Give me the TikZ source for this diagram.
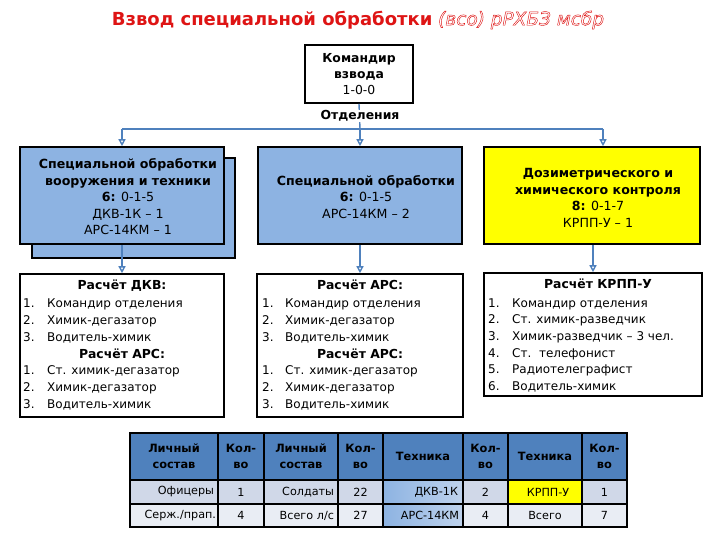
\documentclass[tikz,border=0pt]{standalone}
\usepackage{fontspec}
\setmainfont{DejaVu Sans}
\usetikzlibrary{arrows.meta}
\definecolor{connblue}{RGB}{79,129,189}
\definecolor{boxblue}{RGB}{141,179,226}
\definecolor{ttlred}{RGB}{222,20,20}
\definecolor{hdrblue}{RGB}{79,129,189}
\definecolor{rowa}{RGB}{208,216,232}
\definecolor{rowb}{RGB}{233,237,244}
\definecolor{techl}{RGB}{141,179,226}
\definecolor{techr}{RGB}{190,210,236}
\definecolor{ylw}{RGB}{255,255,0}
\tikzset{
  box/.style={draw=black, line width=1.6pt, inner sep=0pt},
  ubox/.style={box, fill=boxblue},
  lbox/.style={box, fill=white},
  connector/.style={draw=connblue, line width=1.4pt, -{Triangle[open, length=7pt, width=7pt]}},
  plainline/.style={draw=connblue, line width=1.4pt},
  btxt/.style={inner sep=0pt, align=center, font=\fontsize{12.6}{16.5}\selectfont},
  itm/.style={inner sep=0pt, anchor=base west, font=\fontsize{12}{14}\selectfont},
  ihead/.style={inner sep=0pt, anchor=base, font=\fontsize{12.4}{14}\selectfont\bfseries},
  cell/.style={draw=black, line width=1.3pt, inner sep=0pt, font=\fontsize{11.2}{12}\selectfont},
  hcell/.style={cell, fill=hdrblue, align=center, font=\fontsize{11.4}{16}\selectfont\bfseries},
}
\newcommand\lstln[6]{\node[itm] (#6n) at (#1,#3) {#4.}; \node[itm] (#6) at (#2,#3) {#5};}
\newcommand\outlinetext[1]{\special{pdf:literal direct 1 Tr 0.45 w}#1\special{pdf:literal direct 0 Tr}}
\begin{document}
\begin{tikzpicture}[x=1pt,y=-1pt]
\useasboundingbox (0,0) rectangle (720,540);

% title
\node[inner sep=0pt, text=ttlred, font=\fontsize{18}{20}\selectfont] (ttl) at (358,20)
  {\textbf{Взвод специальной обработки} \textit{\fontsize{18.5}{20}\selectfont\outlinetext{(всо) рРХБЗ мсбр}}};

% commander
\node[box, fill=white, minimum width=108pt, minimum height=58pt, align=center,
      font=\fontsize{12.4}{16}\selectfont] (cmd) at (359,74)
  {\textbf{Командир}\\\textbf{взвода}\\1-0-0};
\coordinate (j2) at (360,129);
\coordinate (j1) at (122,129);
\coordinate (j3) at (603,129);
\draw[plainline] (cmd.south) -- (j2);
\node[fill=white, inner sep=1pt, font=\fontsize{12.4}{14}\selectfont\bfseries] (otd) at (360,116) {Отделения};
\draw[plainline] (j1) -- (j3);

% upper boxes
\node[ubox, minimum width=203pt, minimum height=100pt] (u1b) at (133.5,208) {};
\node[ubox, minimum width=204pt, minimum height=97pt] (u1) at (122,195.5) {};
\node[btxt] (u1t) at (128,197) {\textbf{Специальной обработки}\\\textbf{вооружения и техники}\\\textbf{6:} 0-1-5\\ДКВ-1К – 1\\АРС-14КМ – 1};

\node[ubox, minimum width=204pt, minimum height=97pt] (u2) at (360,195.5) {};
\node[btxt] (u2t) at (366,197) {\textbf{Специальной обработки}\\\textbf{6:} 0-1-5\\АРС-14КМ – 2};

\node[box, fill=ylw, minimum width=216pt, minimum height=97pt] (u3) at (592,195.5) {};
\node[btxt] (u3t) at (598,198) {\textbf{Дозиметрического и}\\\textbf{химического контроля}\\\textbf{8:} 0-1-7\\КРПП-У – 1};

\draw[connector] (j1) -- (u1.north);
\draw[connector] (j2) -- (u2.north);
\draw[connector] (j3) -- (j3 |- u3.north);

% lower boxes
\node[lbox, minimum width=204pt, minimum height=143pt] (l1) at (122,345.5) {};
\node[lbox, minimum width=206pt, minimum height=143pt] (l2) at (360,345.5) {};
\node[lbox, minimum width=218pt, minimum height=123pt] (l3) at (593,334.5) {};

\draw[connector] (u1.south) -- (l1.north);
\draw[connector] (u2.south) -- (l2.north);
\draw[connector] (u3.south -| l3.north) -- (l3.north);

% box A
\node[ihead] (a0) at (122,289) {Расчёт ДКВ:};
\lstln{23}{47}{307}{1}{Командир отделения}{a1}
\lstln{23}{47}{324}{2}{Химик-дегазатор}{a2}
\lstln{23}{47}{341}{3}{Водитель-химик}{a3}
\node[ihead] (a4) at (122,358) {Расчёт АРС:};
\lstln{23}{47}{374}{1}{Ст. химик-дегазатор}{a5}
\lstln{23}{47}{391}{2}{Химик-дегазатор}{a6}
\lstln{23}{47}{408}{3}{Водитель-химик}{a7}

% box B
\node[ihead] (b0) at (360,289) {Расчёт АРС:};
\lstln{262}{285}{307}{1}{Командир отделения}{b1}
\lstln{262}{285}{324}{2}{Химик-дегазатор}{b2}
\lstln{262}{285}{341}{3}{Водитель-химик}{b3}
\node[ihead] (b4) at (360,358) {Расчёт АРС:};
\lstln{262}{285}{374}{1}{Ст. химик-дегазатор}{b5}
\lstln{262}{285}{391}{2}{Химик-дегазатор}{b6}
\lstln{262}{285}{408}{3}{Водитель-химик}{b7}

% box C
\node[ihead] (c0) at (598,288) {Расчёт КРПП-У};
\lstln{488}{512}{307}{1}{Командир отделения}{c1}
\lstln{488}{512}{323}{2}{Ст. химик-разведчик}{c2}
\lstln{488}{512}{340}{3}{Химик-разведчик – 3 чел.}{c3}
\lstln{488}{512}{357}{4}{Ст.\ \ телефонист}{c4}
\lstln{488}{512}{373}{5}{Радиотелеграфист}{c5}
\lstln{488}{512}{390}{6}{Водитель-химик}{c6}

% table header
\node[hcell, minimum width=88pt, minimum height=47pt] (t11) at (174,456.5) {Личный\\состав};
\node[hcell, minimum width=46pt, minimum height=47pt] (t12) at (241,456.5) {Кол-\\во};
\node[hcell, minimum width=74pt, minimum height=47pt] (t13) at (301,456.5) {Личный\\состав};
\node[hcell, minimum width=45pt, minimum height=47pt] (t14) at (360.5,456.5) {Кол-\\во};
\node[hcell, minimum width=80pt, minimum height=47pt] (t15) at (423,456.5) {Техника};
\node[hcell, minimum width=45pt, minimum height=47pt] (t16) at (485.5,456.5) {Кол-\\во};
\node[hcell, minimum width=74pt, minimum height=47pt] (t17) at (545,456.5) {Техника};
\node[hcell, minimum width=45pt, minimum height=47pt] (t18) at (604.5,456.5) {Кол-\\во};
% row 1
\node[cell, fill=rowa, minimum width=88pt, minimum height=24pt, text width=80pt, align=right] (t21) at (174,492) {Офицеры};
\node[cell, fill=rowa, minimum width=46pt, minimum height=24pt] (t22) at (241,492) {1};
\node[cell, fill=rowa, minimum width=74pt, minimum height=24pt, text width=66pt, align=right] (t23) at (301,492) {Солдаты};
\node[cell, fill=rowa, minimum width=45pt, minimum height=24pt] (t24) at (360.5,492) {22};
\node[cell, left color=techl, right color=techr, minimum width=80pt, minimum height=24pt, text width=70pt, align=right] (t25) at (423,492) {ДКВ-1К};
\node[cell, fill=rowa, minimum width=45pt, minimum height=24pt] (t26) at (485.5,492) {2};
\node[cell, fill=ylw, minimum width=74pt, minimum height=24pt] (t27) at (545,492) {\hspace*{6pt}КРПП-У};
\node[cell, fill=rowa, minimum width=45pt, minimum height=24pt] (t28) at (604.5,492) {1};
% row 2
\node[cell, fill=rowb, minimum width=88pt, minimum height=23pt, text width=84pt, align=right] (t31) at (174,515.5) {Серж./прап.};
\node[cell, fill=rowb, minimum width=46pt, minimum height=23pt] (t32) at (241,515.5) {4};
\node[cell, fill=rowb, minimum width=74pt, minimum height=23pt, text width=66pt, align=right] (t33) at (301,515.5) {Всего л/с};
\node[cell, fill=rowb, minimum width=45pt, minimum height=23pt] (t34) at (360.5,515.5) {27};
\node[cell, left color=techl, right color=techr, minimum width=80pt, minimum height=23pt, text width=72pt, align=right] (t35) at (423,515.5) {АРС-14КМ};
\node[cell, fill=rowb, minimum width=45pt, minimum height=23pt] (t36) at (485.5,515.5) {4};
\node[cell, fill=rowb, minimum width=74pt, minimum height=23pt] (t37) at (545,515.5) {Всего};
\node[cell, fill=rowb, minimum width=45pt, minimum height=23pt] (t38) at (604.5,515.5) {7};
\end{tikzpicture}
\end{document}
